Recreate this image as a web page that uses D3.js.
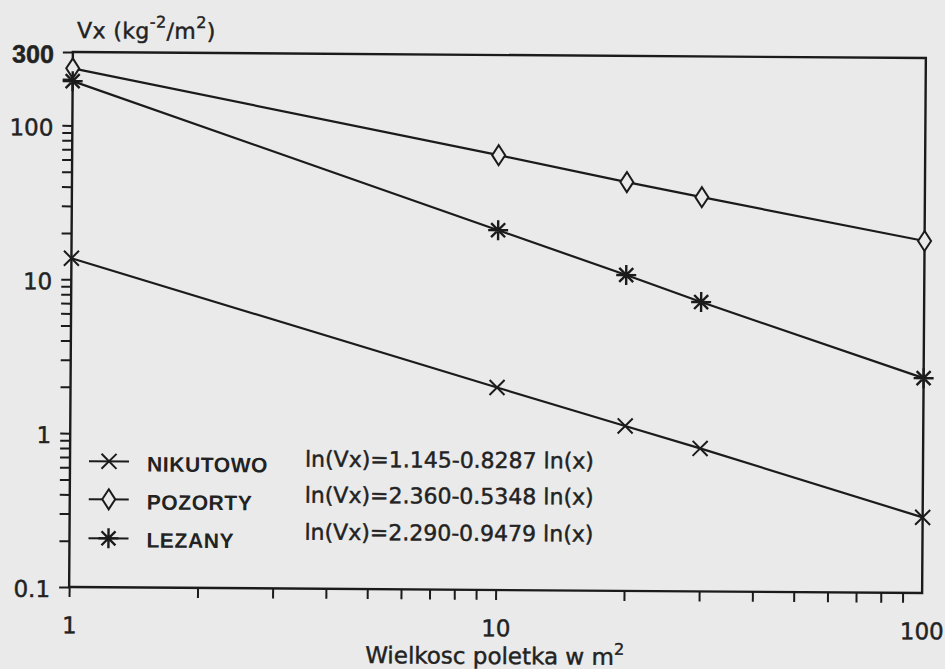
<!DOCTYPE html>
<html>
<head>
<meta charset="utf-8">
<script src="https://cdn.jsdelivr.net/npm/d3@7/dist/d3.min.js"></script>
<style>
    html, body { margin: 0; padding: 0; background: #eaeaea; }
    svg { display: block; }
    .ink-text { stroke: #222; stroke-width: 0.45px; }
</style>
</head>
<body>
<div id="chart"></div>
<script>
// plot size (m2) and Vx for each site
var sizes = [1, 10, 20, 30, 100];
var nikutowo = [13.7, 2.07, 1.18, 0.85, 0.31];
var pozorty = [235, 67, 45.4, 36.5, 19.4];
var lezany = [194, 21.8, 11.3, 7.6, 2.49];

var seriesNames = ["NIKUTOWO", "POZORTY", "LEZANY"];
var seriesSymbols = ["cross", "diamond", "star"];
var equations = [
    "ln(Vx)=1.145-0.8287 ln(x)",
    "ln(Vx)=2.360-0.5348 ln(x)",
    "ln(Vx)=2.290-0.9479 ln(x)"
];
var yLabelValues = [0.1, 1, 10, 100, 300];
var xLabelValues = [1, 10, 100];

var W = 945, H = 669;
var ink = "#1b1b1b";
var bg = "#eaeaea";
var font = "'DejaVu Sans', sans-serif";

var svg = d3.select("#chart").append("svg")
    .attr("width", W)
    .attr("height", H);

svg.append("rect")
    .attr("width", W)
    .attr("height", H)
    .attr("fill", bg);

// the scan is a little tilted
var g = svg.append("g").attr("transform", "rotate(0.4,497,322)");

var x = d3.scaleLog().domain([1, 100]).range([71, 924]);
var y = d3.scaleLog().domain([0.1, 300]).range([590, 55]);

function isLabel(list, d) {
    return list.some(function(v) { return Math.abs(v - d) < 1e-9; });
}

// frame
g.append("rect")
    .attr("x", x(1))
    .attr("y", y(300))
    .attr("width", x(100) - x(1))
    .attr("height", y(0.1) - y(300))
    .attr("fill", "none")
    .attr("stroke", ink)
    .attr("stroke-width", 2.4);

// y axis
var yAxis = g.append("g")
    .attr("transform", "translate(" + x(1) + ",0)")
    .call(d3.axisLeft(y)
        .tickValues(y.ticks())
        .tickSize(10)
        .tickPadding(9)
        .tickFormat(function(d) { return isLabel(yLabelValues, d) ? d3.format("~g")(d) : ""; }));
yAxis.select(".domain").remove();
yAxis.selectAll(".tick line").attr("stroke", ink).attr("stroke-width", 2);
yAxis.selectAll(".tick text")
    .attr("class", "ink-text")
    .attr("fill", "#222")
    .attr("dy", "0.42em")
    .style("font-family", function(d) { return d === 300 ? "'Liberation Sans', Arial, sans-serif" : font; })
    .style("font-size", function(d) { return d === 300 ? "25px" : "23px"; })
    .style("font-weight", function(d) { return d === 300 ? "bold" : "normal"; });

// x axis
var xAxis = g.append("g")
    .attr("transform", "translate(0," + y(0.1) + ")")
    .call(d3.axisBottom(x)
        .tickValues(x.ticks().filter(function(d) { return d < 100; }))
        .tickSize(10)
        .tickPadding(20)
        .tickFormat(function(d) { return isLabel(xLabelValues, d) ? d3.format("~g")(d) : ""; }));
xAxis.select(".domain").remove();
xAxis.selectAll(".tick line").attr("stroke", ink).attr("stroke-width", 2);
xAxis.selectAll(".tick text")
    .attr("class", "ink-text")
    .attr("fill", "#222")
    .style("font-family", font)
    .style("font-size", "23px");

// 100 has no tick mark but keeps its label
xAxis.append("text")
    .attr("class", "ink-text")
    .attr("x", x(100))
    .attr("y", 30)
    .attr("dy", "0.71em")
    .attr("text-anchor", "middle")
    .attr("fill", "#222")
    .style("font-family", font)
    .style("font-size", "23px")
    .text(d3.format("~g")(xLabelValues[2]));

// axis titles
var yTitle = g.append("text")
    .attr("class", "ink-text")
    .attr("x", 75)
    .attr("y", 41)
    .attr("fill", "#222")
    .style("font-family", font)
    .style("font-size", "22px")
    .style("letter-spacing", "0.4px");
yTitle.append("tspan").text("Vx (kg");
yTitle.append("tspan").attr("dy", -11).style("font-size", "16px").text("-2");
yTitle.append("tspan").attr("dy", 11).text("/m");
yTitle.append("tspan").attr("dy", -11).style("font-size", "16px").text("2");
yTitle.append("tspan").attr("dy", 11).text(")");

var xTitle = g.append("text")
    .attr("class", "ink-text")
    .attr("x", 497)
    .attr("y", 664)
    .attr("text-anchor", "middle")
    .attr("fill", "#222")
    .style("font-family", font)
    .style("font-size", "23px");
xTitle.append("tspan").text("Wielkosc poletka w m");
xTitle.append("tspan").attr("dy", -10).style("font-size", "16px").text("2");

// markers
function symbolPath(type) {
    if (type === "cross") return "M-7.5,-7.5L7.5,7.5M-7.5,7.5L7.5,-7.5";
    if (type === "diamond") return "M0,-10L6.5,0L0,10L-6.5,0Z";
    return "M0,-10V10M-10,0H10M-7,-7L7,7M-7,7L7,-7";
}

var series = [nikutowo, pozorty, lezany].map(function(vals, i) {
    return {
        name: seriesNames[i],
        symbol: seriesSymbols[i],
        points: vals.map(function(v, j) { return { x: sizes[j], v: v }; })
    };
});

var line = d3.line()
    .x(function(d) { return x(d.x); })
    .y(function(d) { return y(d.v); });

g.selectAll(".series-line")
    .data(series)
    .enter()
    .append("path")
    .attr("class", "series-line")
    .attr("d", function(d) { return line(d.points); })
    .attr("fill", "none")
    .attr("stroke", ink)
    .attr("stroke-width", 2.2);

series.forEach(function(s) {
    g.selectAll(".m-" + s.symbol)
        .data(s.points)
        .enter()
        .append("path")
        .attr("class", "m-" + s.symbol)
        .attr("transform", function(d) { return "translate(" + x(d.x) + "," + y(d.v) + ")"; })
        .attr("d", symbolPath(s.symbol))
        .attr("fill", s.symbol === "diamond" ? bg : "none")
        .attr("stroke", ink)
        .attr("stroke-width", s.symbol === "star" ? 2.4 : 2);
});

// legend
var rowY = [464, 502, 541];
var nameY = [474, 512, 550];
var eqY = [468, 504, 541];

var legend = g.append("g");
series.forEach(function(s, i) {
    legend.append("line")
        .attr("x1", 90).attr("x2", 130)
        .attr("y1", rowY[i]).attr("y2", rowY[i])
        .attr("stroke", ink)
        .attr("stroke-width", 2);
    legend.append("path")
        .attr("transform", "translate(110," + rowY[i] + ")")
        .attr("d", symbolPath(s.symbol))
        .attr("fill", s.symbol === "diamond" ? bg : "none")
        .attr("stroke", ink)
        .attr("stroke-width", s.symbol === "star" ? 2.4 : 2);
    legend.append("text")
        .attr("x", 148)
        .attr("y", nameY[i])
        .attr("fill", "#222")
        .style("font-family", "'Liberation Sans', Arial, sans-serif")
        .style("font-weight", "bold")
        .style("font-size", "21px")
        .style("letter-spacing", "0.6px")
        .text(s.name);
    legend.append("text")
        .attr("class", "ink-text")
        .attr("x", 306)
        .attr("y", eqY[i])
        .attr("fill", "#222")
        .style("font-family", font)
        .style("font-size", "22px")
        .text(equations[i]);
});
</script>
</body>
</html>
